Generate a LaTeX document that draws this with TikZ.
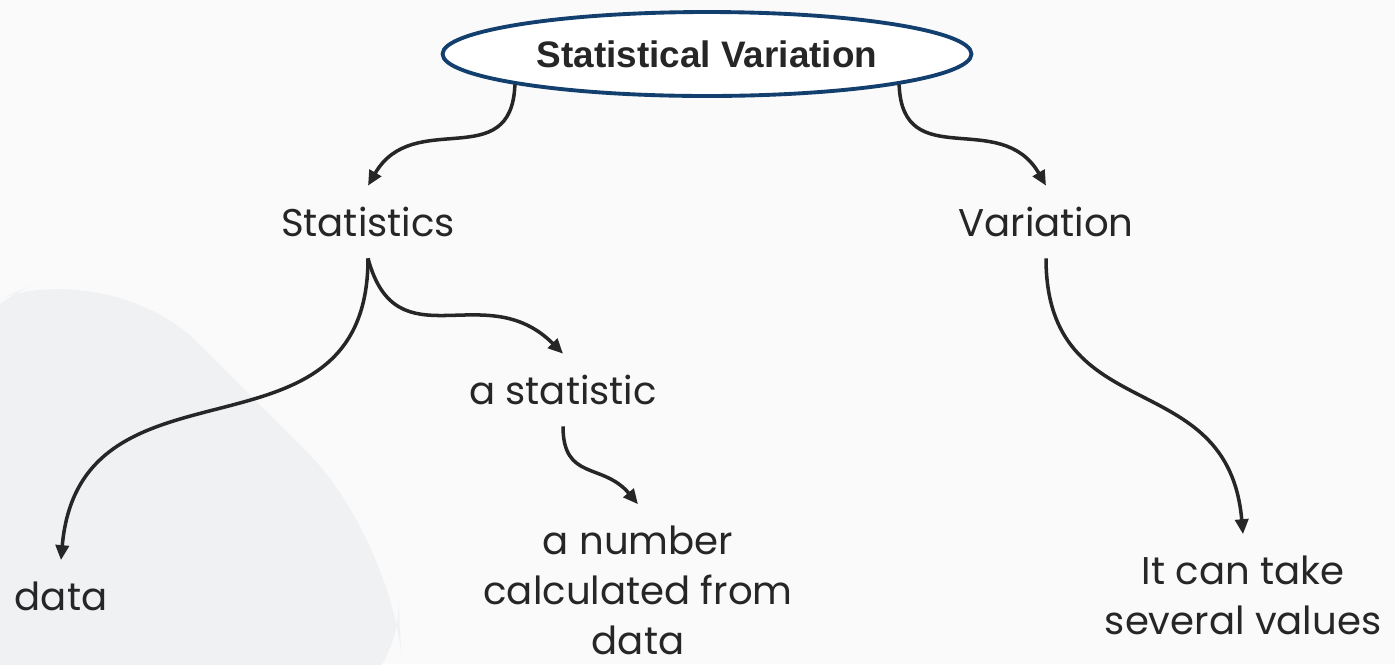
\documentclass[tikz,border=0pt]{standalone}
\usepackage{fontspec}
\setmainfont{Poppins}
\newfontfamily\headfont{Liberation Sans}
\usepackage{xcolor}
\usetikzlibrary{positioning,arrows.meta,shapes.geometric,calc}
\definecolor{ink}{HTML}{262626}
\definecolor{navy}{HTML}{123F6E}
\definecolor{paper}{HTML}{FAFAFA}
\definecolor{blob}{HTML}{F0F1F3}

\begin{document}
\begin{tikzpicture}[x=0.02cm,y=-0.02cm,every node/.style={font=\fontsize{22}{28.4}\selectfont,text=ink}]
    \tikzstyle{hd}=[ellipse,draw=navy,line width=2.2pt,fill=white,minimum width=10.58cm,minimum height=1.68cm,inner sep=0pt,font=\headfont\bfseries\fontsize{21}{24}\selectfont];
    \tikzstyle{lbl}=[align=center,inner sep=12pt];
    \tikzstyle{arr}=[-{Triangle[length=8.5pt,width=7.5pt]},line width=2pt,draw=ink,looseness=1.3];
    % background
    \clip (0,0) rectangle (1395,664);
    \fill[paper] (0,0) rectangle (1395,664);
    \fill[blob,rounded corners=70] (-80,330) -- (110,255) -- (395,540) -- (405,720) -- (-80,720) -- cycle;
    \node[hd] (title) at (707,54) {Statistical Variation};
    \node[lbl] (stats) at (368,222) {Statistics};
    \node[lbl] (vari)  at (1046,222) {Variation};
    \node[lbl] (stat)  at (563,390) {a statistic};
    \node[lbl] (data)  at (61,596) {data};
    \node[lbl] (num)   at (638,590) {a number\\calculated from\\data};
    \node[lbl] (val)   at (1243,595) {It can take\\several values};
    \draw[arr] (title.189) to[out=-92,in=60] (stats.north);
    \draw[arr] (title.-9)  to[out=-88,in=120] (vari.north);
    \draw[arr] (stats.south) to[out=-90,in=85] (data.north);
    \draw[arr] (stats.south) to[out=-75,in=135] (stat.north);
    \draw[arr] (stat.south) to[out=-90,in=130] (num.north);
    \draw[arr] (vari.south) to[out=-90,in=95] (val.north);
  \end{tikzpicture}
\end{document}
